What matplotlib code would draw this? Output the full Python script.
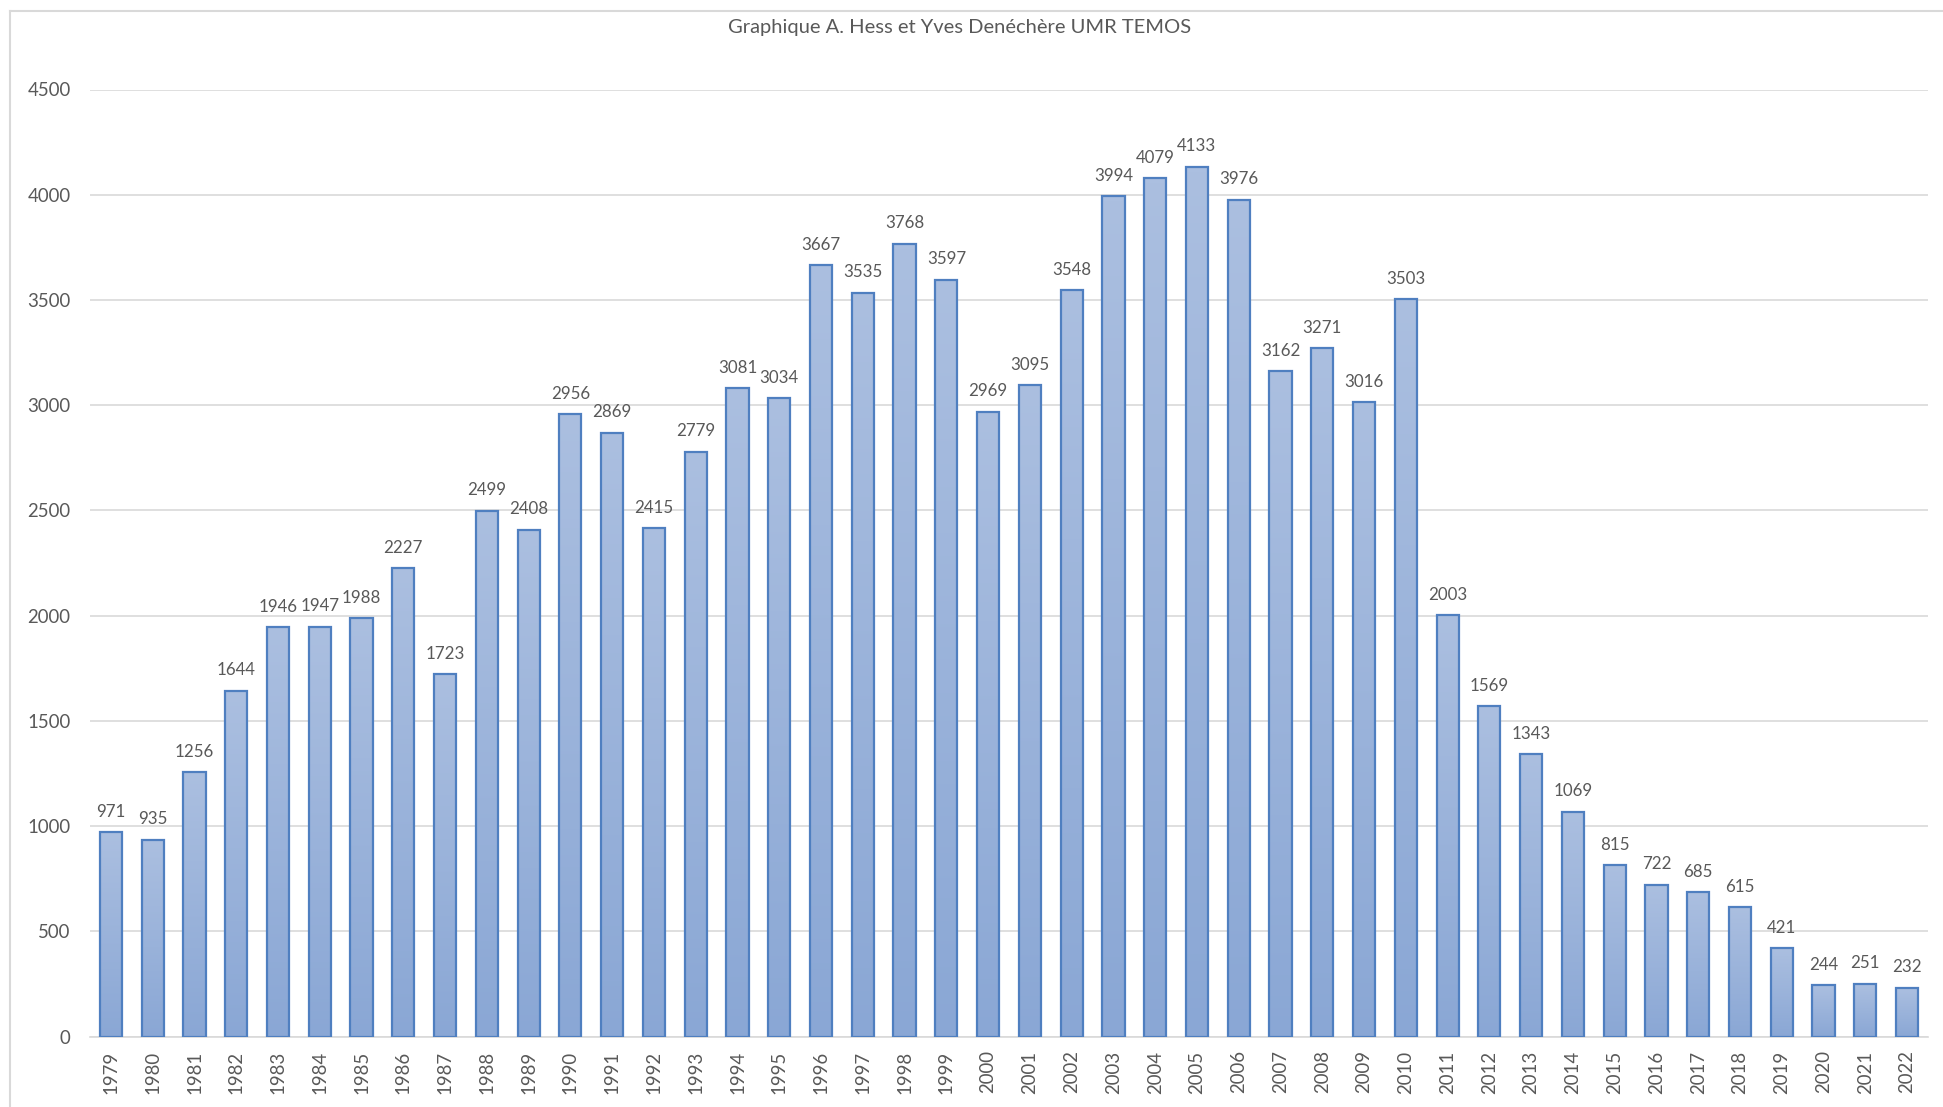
import numpy as np
import matplotlib
matplotlib.use("Agg")
import matplotlib.pyplot as plt
from matplotlib.lines import Line2D
from matplotlib.colors import LinearSegmentedColormap

plt.rcParams['font.family'] = ['Lato', 'DejaVu Sans']

years = [str(y) for y in range(1979, 2023)]
values = [971, 935, 1256, 1644, 1946, 1947, 1988, 2227, 1723, 2499,
          2408, 2956, 2869, 2415, 2779, 3081, 3034, 3667, 3535, 3768,
          3597, 2969, 3095, 3548, 3994, 4079, 4133, 3976, 3162, 3271,
          3016, 3503, 2003, 1569, 1343, 1069, 815, 722, 685, 615,
          421, 244, 251, 232]
yticks = [0, 500, 1000, 1500, 2000, 2500, 3000, 3500, 4000, 4500]
title = "Graphique A. Hess et Yves Denéchère UMR TEMOS"

W, H, DPI = 1943, 1107, 100
fig = plt.figure(figsize=(W / DPI, H / DPI), dpi=DPI)
ax = fig.add_axes([90 / W, 1 - 1036.5 / H, (1928 - 90) / W, (1036.5 - 89.5) / H])

text_grey = '#595959'
grid_grey = '#d9d9d9'
edge_col = '#4f7fc0'

x = np.arange(len(values))
bars = ax.bar(x, values, width=0.53, facecolor='none', edgecolor=edge_col,
              linewidth=1.6, zorder=3)

# vertical gradient fill inside each bar
grad = np.linspace(0, 1, 256).reshape(-1, 1)
cmap = LinearSegmentedColormap.from_list('barfill', ['#8aa7d5', '#abbfe0'])
for b in bars:
    x0, y0 = b.get_x(), b.get_y()
    w, h = b.get_width(), b.get_height()
    im = ax.imshow(grad, cmap=cmap, aspect='auto', origin='lower',
                   extent=(x0, x0 + w, y0, y0 + h), zorder=2,
                   interpolation='bilinear')
    im.set_clip_path(b)

for xi, v in zip(x, values):
    ax.annotate(str(v), (xi, v), xytext=(0, 11), textcoords='offset points',
                ha='center', va='baseline', fontsize=12.2, color=text_grey)

ax.set_xlim(-0.5, len(values) - 0.5)
ax.set_ylim(0, 4500)
ax.set_yticks(yticks)
ax.set_yticklabels([str(t) for t in yticks])
ax.set_xticks(x)
ax.set_xticklabels(years, rotation=90)
ax.tick_params(axis='y', length=0, pad=14, labelsize=13.4, labelcolor=text_grey)
ax.tick_params(axis='x', length=0, pad=10, labelsize=13.4, labelcolor=text_grey)
ax.yaxis.grid(True, color=grid_grey, linewidth=1.2, zorder=0)
ax.set_axisbelow(True)
for side in ['top', 'right', 'left']:
    ax.spines[side].set_visible(False)
ax.spines['bottom'].set_color(grid_grey)
ax.spines['bottom'].set_linewidth(1.2)
ax.spines['bottom'].set_zorder(1)

# chart frame (top and left edges)
fig.add_artist(Line2D([9.5 / W, 9.5 / W], [0, 1 - 11 / H], color=grid_grey,
                      linewidth=1.5, transform=fig.transFigure))
fig.add_artist(Line2D([9.5 / W, 1], [1 - 11 / H, 1 - 11 / H], color=grid_grey,
                      linewidth=1.5, transform=fig.transFigure))

fig.text(960 / W, 1 - 28 / H, title, ha='center', va='center',
         fontsize=14.5, color=text_grey)

fig.savefig('out.png', dpi=DPI)
